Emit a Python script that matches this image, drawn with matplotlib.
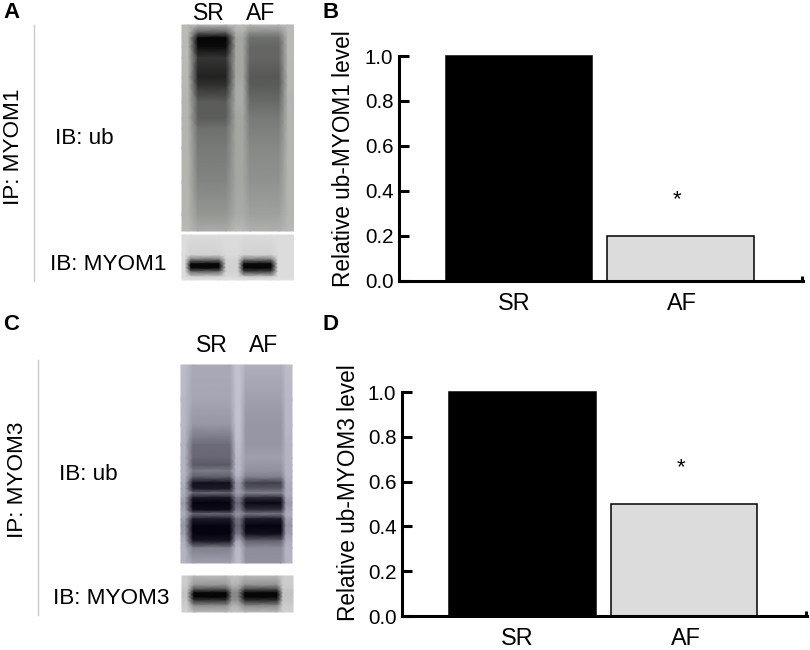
import matplotlib
matplotlib.use('Agg')
import matplotlib.pyplot as plt
import numpy as np
from matplotlib.colors import LinearSegmentedColormap
#
plt.rcParams['font.family'] = ['Liberation Sans', 'DejaVu Sans']
# ======================== bar values ==================================
groups = ['SR', 'AF']
myom1_level = [1.0, 0.2]
myom3_level = [1.0, 0.5]
y_ticks = [0.0, 0.2, 0.4, 0.6, 0.8, 1.0]
# ======================== blot grey levels =====
# panel A, IB: ub
a_ub_y = [25, 33, 38, 47, 58, 77, 87, 102, 118, 128, 148, 182, 215, 231]
a_ub_bg = [.76, .76, .76, .76, .76, .75, .75, .74, .74, .74, .74, .74, .74, .76]
a_ub_sr = [.74, .36, .02, .05, .22, .14, .22, .38, .38, .46, .50, .54, .62, .70]
a_ub_gap = [.78, .72, .68, .68, .68, .68, .70, .70, .68, .68, .68, .68, .70, .76]
a_ub_af = [.74, .56, .46, .42, .42, .36, .38, .44, .50, .52, .56, .60, .66, .72]
# panel A, IB: MYOM1
a_ib_y = [235, 255, 260, 264, 268, 272, 277, 280]
a_ib_bg = [.91, .91, .91, .91, .91, .91, .91, .93]
a_ib_sr = [.91, .86, .45, .04, .03, .45, .86, .93]
a_ib_gap = [.91, .90, .87, .86, .86, .87, .90, .93]
a_ib_af = [.91, .86, .45, .04, .02, .30, .84, .93]
# panel C, IB: ub
c_ub_y = [365, 400, 425, 445, 458, 465, 471, 477, 483, 489, 493, 498, 503, 510, 514, 519, 526, 534, 541, 548, 563]
c_ub_bg = [.78, .76, .76, .74, .74, .74, .74, .74, .72, .70, .72, .68, .64, .68, .72, .66, .62, .66, .72, .74, .74]
c_ub_sr = [.70, .68, .62, .44, .42, .36, .50, .38, .06, .10, .42, .08, .00, .04, .42, .10, .00, .00, .08, .52, .66]
c_ub_gap = [.80, .80, .80, .78, .76, .76, .76, .72, .62, .62, .66, .50, .42, .50, .62, .46, .40, .48, .68, .76, .78]
c_ub_af = [.72, .66, .62, .62, .66, .62, .60, .52, .26, .36, .52, .16, .02, .18, .48, .10, .00, .05, .40, .58, .60]
# panel C, IB: MYOM3
c_ib_y = [576, 585, 590, 593, 597, 601, 606, 612]
c_ib_bg = [.84, .84, .82, .80, .80, .82, .84, .86]
c_ib_sr = [.76, .62, .30, .03, .02, .25, .60, .76]
c_ib_gap = [.80, .74, .62, .56, .56, .62, .74, .80]
c_ib_af = [.76, .60, .26, .03, .02, .22, .58, .76]
#
def draw_blot(ax, y_nodes, x_nodes, bg, sr, gap, af, cmap):
    columns = [bg, bg, sr, sr, gap, gap, af, af, bg, bg]
    levels = np.array(columns).T
    ax.pcolormesh(x_nodes, y_nodes, levels, shading='gouraud', cmap=cmap, vmin=0, vmax=1)
    return
#
def draw_bars(fig, box, values, tick_x, label_y, star_x, star_y):
    # box is left, right, bottom, top in pixels of the 810x650 picture
    left, right, bottom, top = box
    ax = fig.add_axes([left / 810, 1 - bottom / 650, (right - left) / 810, (bottom - top) / 650])
    ax.patch.set_alpha(0)
    ax.bar([0, 1], values, width=0.905, color=['black', '#dcdcdc'], edgecolor='black', linewidth=1.1, clip_on=False)
    ax.set_xlim(-0.743, 1.759)
    ax.set_ylim(0, 1)
    for side in ['top', 'right']:
        ax.spines[side].set_visible(False)
    for side in ['left', 'bottom']:
        ax.spines[side].set_linewidth(2.2)
    ax.set_yticks(y_ticks)
    ax.set_yticklabels(['%.1f' % v for v in y_ticks], fontsize=14.8)
    ax.tick_params(axis='y', direction='in', length=7, width=2.2, pad=4)
    # small closing tick at the end of the x axis, group labels on minor ticks
    ax.set_xticks([1.755])
    ax.set_xticklabels([''])
    ax.tick_params(axis='x', direction='in', length=3.5, width=2.2)
    ax.set_xticks(tick_x, minor=True)
    ax.set_xticklabels(groups, minor=True, fontsize=16.8)
    ax.tick_params(axis='x', which='minor', length=0, pad=8)
    ax.set_ylabel(label_y, fontsize=16.3)
    ax.text(star_x, star_y, '*', fontsize=16, ha='center', va='center')
    return ax
#
if __name__ == '__main__':
    fig = plt.figure(figsize=(8.1, 6.5), dpi=100)
    # whole picture in pixel coordinates for blots and free labels
    bg_ax = fig.add_axes([0, 0, 1, 1])
    bg_ax.set_xlim(0, 810)
    bg_ax.set_ylim(650, 0)
    bg_ax.axis('off')
    #
    green_map = LinearSegmentedColormap.from_list('green_blot', ['#000000', '#f0f4ee'])
    grey_map = LinearSegmentedColormap.from_list('grey_blot', ['#000000', '#f2f2f2'])
    lilac_map = LinearSegmentedColormap.from_list('lilac_blot', ['#05030f', '#f0f0ff'])
    #
    draw_blot(bg_ax, a_ub_y, [182, 188, 198, 226, 236, 243, 250, 279, 288, 293.5],
              a_ub_bg, a_ub_sr, a_ub_gap, a_ub_af, green_map)
    draw_blot(bg_ax, a_ib_y, [182, 185, 191, 219, 226, 238, 244, 271, 278, 293.5],
              a_ib_bg, a_ib_sr, a_ib_gap, a_ib_af, grey_map)
    draw_blot(bg_ax, c_ub_y, [181, 185, 193, 230, 236, 240, 246, 281, 286, 292],
              c_ub_bg, c_ub_sr, c_ub_gap, c_ub_af, lilac_map)
    draw_blot(bg_ax, c_ib_y, [182, 187, 194, 226, 232, 238, 245, 277, 283, 293],
              c_ib_bg, c_ib_sr, c_ib_gap, c_ib_af, grey_map)
    #
    bg_ax.plot([34, 34], [25, 281], color='#c8c8c8', lw=1)
    bg_ax.plot([37.5, 37.5], [360, 615], color='#c8c8c8', lw=1)
    #
    for letter, x, y in [('A', 3, 13), ('B', 323, 12), ('C', 3, 324), ('D', 323, 324)]:
        bg_ax.text(x, y, letter, fontsize=16, fontweight='bold', ha='left', va='center')
    for name, x, y in [('SR', 209, 13), ('AF', 261, 13), ('SR', 212, 346), ('AF', 264, 346)]:
        bg_ax.text(x, y, name, fontsize=16.5, ha='center', va='center')
    for name, x, y in [('IB: ub', 55, 139), ('IB: MYOM1', 50, 265), ('IB: ub', 59, 474), ('IB: MYOM3', 53, 598)]:
        bg_ax.text(x, y, name, fontsize=16.2, ha='left', va='center')
    bg_ax.text(14, 147, 'IP: MYOM1', fontsize=16.2, rotation=90, ha='center', va='center')
    bg_ax.text(18, 480, 'IP: MYOM3', fontsize=16.2, rotation=90, ha='center', va='center')
    #
    ax_b = draw_bars(fig, (399, 803, 280.5, 56), myom1_level, [-0.03, 1.01], 'Relative ub-MYOM1 level', 0.98, 0.36)
    ax_b.yaxis.set_label_coords(-0.11, 0.545)
    ax_d = draw_bars(fig, (402, 807, 616, 392), myom3_level, [-0.03, 1.01], 'Relative ub-MYOM3 level', 0.98, 0.66)
    ax_d.yaxis.set_label_coords(-0.104, 0.55)
    #
    fig.savefig('out.png', dpi=100)
